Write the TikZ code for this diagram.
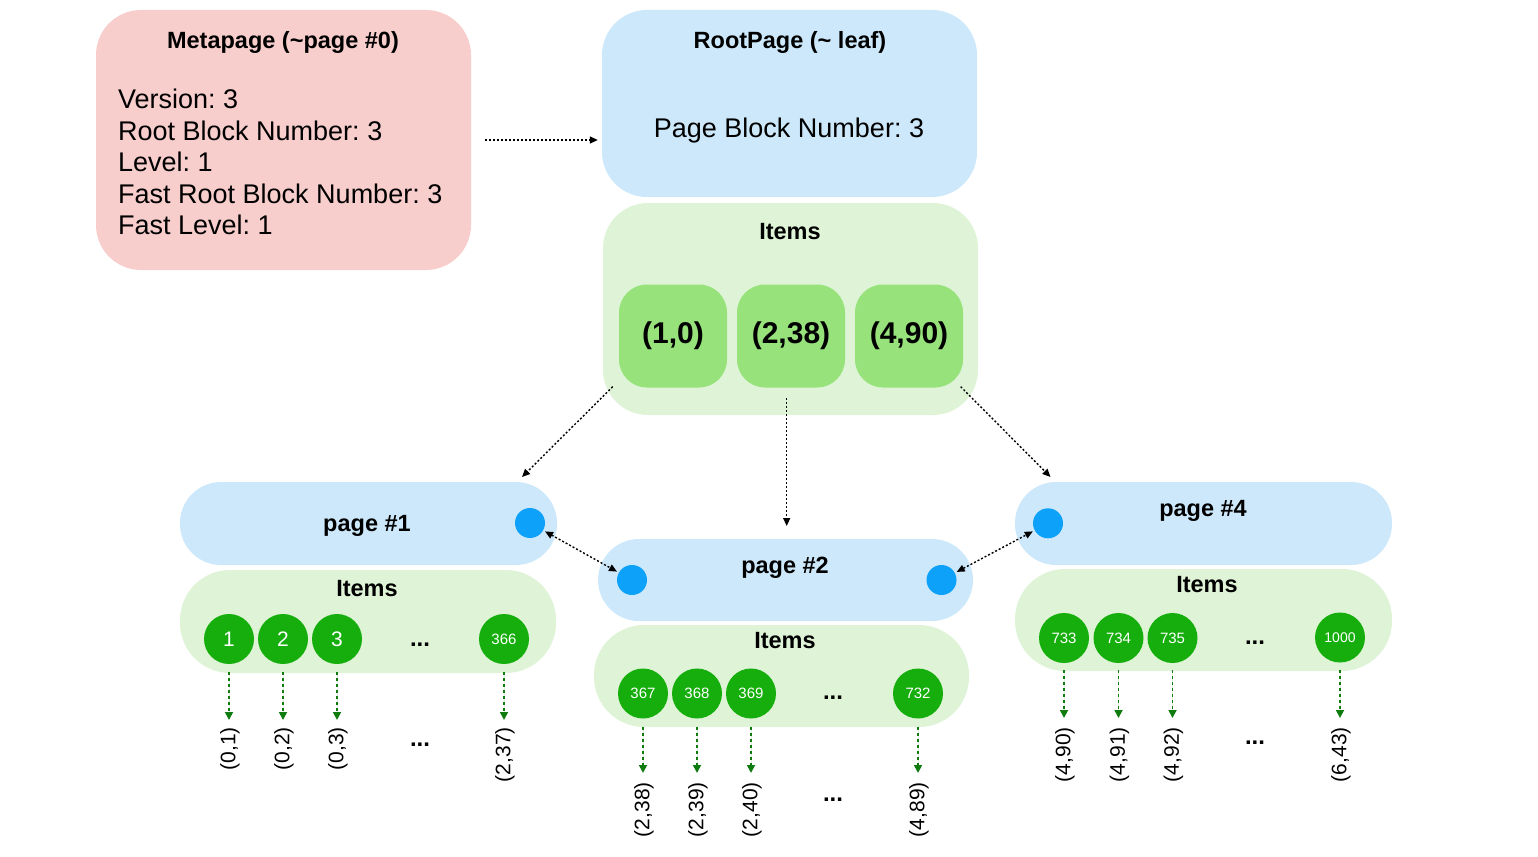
\documentclass[tikz,border=0pt]{standalone}
\usepackage{fontspec}
\setmainfont{Liberation Sans}
\usetikzlibrary{arrows.meta}
\frenchspacing
\definecolor{metapink}{RGB}{248,206,204}
\definecolor{pageblue}{RGB}{204,232,250}
\definecolor{itemgreen}{RGB}{223,244,214}
\definecolor{keygreen}{RGB}{151,226,123}
\definecolor{leafgreen}{RGB}{22,174,12}
\definecolor{dotblue}{RGB}{13,161,250}
\definecolor{linkgreen}{RGB}{16,124,16}
\begin{document}
\begin{tikzpicture}[x=1pt,y=-1pt,
 metabox/.style={fill=metapink, rounded corners=45pt, inner sep=0pt, minimum width=375pt},
 rootbox/.style={fill=pageblue, rounded corners=45pt, inner sep=0pt, minimum width=375pt},
 rootitems/.style={fill=itemgreen, rounded corners=45pt, inner sep=0pt, minimum width=375pt},
 pagebox/.style={fill=pageblue, rounded corners=41pt, inner sep=0pt, minimum width=377pt, minimum height=83pt},
 itembox/.style={fill=itemgreen, rounded corners=50pt, inner sep=0pt, minimum width=376pt, minimum height=103pt},
 keybox/.style={fill=keygreen, rounded corners=28pt, minimum width=108pt, minimum height=103pt, inner sep=0pt, font=\fontsize{30}{36}\selectfont\bfseries},
 ttl/.style={font=\fontsize{23.5}{28}\selectfont\bfseries, inner sep=0pt},
 bodytxt/.style={font=\fontsize{27}{32}\selectfont, inner sep=0pt},
 leafnode/.style={circle, fill=leafgreen, text=white, minimum size=50pt, inner sep=0pt},
 numbig/.style={font=\fontsize{21}{25}\selectfont},
 numsmall/.style={font=\fontsize{15}{18}\selectfont},
 numtiny/.style={font=\fontsize{14}{17}\selectfont},
 bluedot/.style={circle, fill=dotblue, minimum size=30pt, inner sep=0pt},
 ptr/.style={line width=1.4pt, dash pattern=on 2pt off 2pt, -{Triangle[length=8pt,width=7pt]}},
 dblptr/.style={line width=1.4pt, dash pattern=on 2pt off 2pt, {Triangle[length=8pt,width=7pt]}-{Triangle[length=8pt,width=7pt]}},
 tidlink/.style={draw=linkgreen, line width=1.7pt, dash pattern=on 3pt off 3pt, -{Triangle[length=8pt,width=8pt]}, fill=linkgreen},
 tid/.style={rotate=90, anchor=east, inner sep=0pt, font=\fontsize{21}{25}\selectfont},
 ellip/.style={font=\fontsize{24}{28}\selectfont\bfseries, inner sep=0pt}
]
\useasboundingbox (0,0) rectangle (1538,856);

% Metapage
\node[metabox, minimum height=260pt] (meta) at (283.5,140) {};
\node[ttl] (metat) at (283,42) {Metapage (\textasciitilde page \#0)};
\node[bodytxt, anchor=west] (m1) at (118,99) {Version: 3};
\node[bodytxt, anchor=west] (m2) at (118,131) {Root Block Number: 3};
\node[bodytxt, anchor=west] (m3) at (118,162) {Level: 1};
\node[bodytxt, anchor=west] (m4) at (118,194) {Fast Root Block Number: 3};
\node[bodytxt, anchor=west] (m5) at (118,225) {Fast Level: 1};

% Root page
\node[rootbox, minimum height=187pt] (root) at (789.5,103.5) {};
\node[ttl] (roott) at (790,42) {RootPage (\textasciitilde{} leaf)};
\node[bodytxt] (rootb) at (789,130.5) {Page Block Number: 3};

% Root items
\node[rootitems, minimum height=212pt] (ritems) at (790.5,309) {};
\node[ttl] (ritemst) at (790,232) {Items};
\node[keybox] (key1) at (673,336) {(1,0)};
\node[keybox] (key2) at (791,336) {(2,38)};
\node[keybox] (key3) at (909,336) {(4,90)};

% meta -> root
\draw[ptr, shorten <=14pt, shorten >=4pt] (meta.east) -- (meta.east -| root.west);

% page #1
\node[pagebox] (p1) at (368.5,523.5) {};
\node[ttl] (p1t) at (367,526) {page \#1};
\node[bluedot] (d1) at (530,523) {};
\node[itembox] (i1) at (368,621.5) {};
\node[ttl] (i1t) at (367,589) {Items};
\node[leafnode, numbig] (c1) at (229,639) {1};
\node[leafnode, numbig] (c2) at (283,639) {2};
\node[leafnode, numbig] (c3) at (337,639) {3};
\node[ellip] (c4) at (420,645) {...};
\node[leafnode, numsmall] (c5) at (504,639) {366};

% page #2
\node[pagebox, minimum width=375pt, minimum height=82pt] (p2) at (785.5,580) {};
\node[ttl] (p2t) at (785,568) {page \#2};
\node[bluedot] (d2) at (632,580) {};
\node[bluedot] (d3) at (941.5,580) {};
\node[itembox, minimum width=375pt, minimum height=102pt] (i2) at (781.5,676) {};
\node[ttl] (i2t) at (785,641) {Items};
\node[leafnode, numsmall] (g1) at (643,693.5) {367};
\node[leafnode, numsmall] (g2) at (697,693.5) {368};
\node[leafnode, numsmall] (g3) at (751,693.5) {369};
\node[ellip] (g4) at (833,698) {...};
\node[leafnode, numsmall] (g5) at (918,693.5) {732};

% page #4
\node[pagebox] (p4) at (1203.5,523.5) {};
\node[ttl] (p4t) at (1203,511) {page \#4};
\node[bluedot] (d4) at (1048,523.3) {};
\node[itembox, minimum width=377pt, minimum height=102pt] (i4) at (1203.5,620) {};
\node[ttl] (i4t) at (1207,585) {Items};
\node[leafnode, numsmall] (h1) at (1064,638) {733};
\node[leafnode, numsmall] (h2) at (1118.5,638) {734};
\node[leafnode, numsmall] (h3) at (1172.5,638) {735};
\node[ellip] (h4) at (1255,643) {...};
\node[leafnode, numtiny] (h5) at (1340,637.5) {1000};

% root items -> pages
\coordinate (s1) at (612.7,386.7);
\coordinate (s2) at (786.7,398.3);
\coordinate (s3) at (960.7,386.7);
\coordinate (e1) at (522,477);
\coordinate (e2) at (786.7,526);
\coordinate (e3) at (1050.5,477);
\draw[ptr] (s1) -- (e1);
\draw[ptr] (s2) -- (e2);
\draw[ptr] (s3) -- (e3);

% sibling links
\draw[dblptr, shorten <=2pt, shorten >=2pt] (d1) -- (d2);
\draw[dblptr, shorten <=2pt, shorten >=2pt] (d3) -- (d4);

% TIDs page #1
\coordinate (a1) at (229,720);
\coordinate (a2) at (283,720);
\coordinate (a3) at (337,720);
\coordinate (a5) at (504,720);
\draw[tidlink, shorten <=8pt] (c1) -- (a1);
\draw[tidlink, shorten <=8pt] (c2) -- (a2);
\draw[tidlink, shorten <=8pt] (c3) -- (a3);
\draw[tidlink, shorten <=8pt] (c5) -- (a5);
\node[tid] (t1) at (230,727) {(0,1)};
\node[tid] (t2) at (284,727) {(0,2)};
\node[tid] (t3) at (338,727) {(0,3)};
\node[ellip] (t4) at (420,745) {...};
\node[tid] (t5) at (505,727) {(2,37)};

% TIDs page #2
\coordinate (b1) at (643,773);
\coordinate (b2) at (697,773);
\coordinate (b3) at (751,773);
\coordinate (b5) at (918,773);
\draw[tidlink, shorten <=8pt] (g1) -- (b1);
\draw[tidlink, shorten <=8pt] (g2) -- (b2);
\draw[tidlink, shorten <=8pt] (g3) -- (b3);
\draw[tidlink, shorten <=8pt] (g5) -- (b5);
\node[tid] (u1) at (644,782) {(2,38)};
\node[tid] (u2) at (698,782) {(2,39)};
\node[tid] (u3) at (752,782) {(2,40)};
\node[ellip] (u4) at (833,800) {...};
\node[tid] (u5) at (919,782) {(4,89)};

% TIDs page #4
\coordinate (f1) at (1064,718);
\coordinate (f2) at (1118.5,718);
\coordinate (f3) at (1172.5,718);
\coordinate (f5) at (1340,718);
\draw[tidlink, shorten <=7pt] (h1) -- (f1);
\draw[tidlink, shorten <=7pt] (h2) -- (f2);
\draw[tidlink, shorten <=7pt] (h3) -- (f3);
\draw[tidlink, shorten <=7pt] (h5) -- (f5);
\node[tid] (v1) at (1065,727) {(4,90)};
\node[tid] (v2) at (1119.5,727) {(4,91)};
\node[tid] (v3) at (1173.5,727) {(4,92)};
\node[ellip] (v4) at (1255,743) {...};
\node[tid] (v5) at (1341,727) {(6,43)};
\end{tikzpicture}
\end{document}
